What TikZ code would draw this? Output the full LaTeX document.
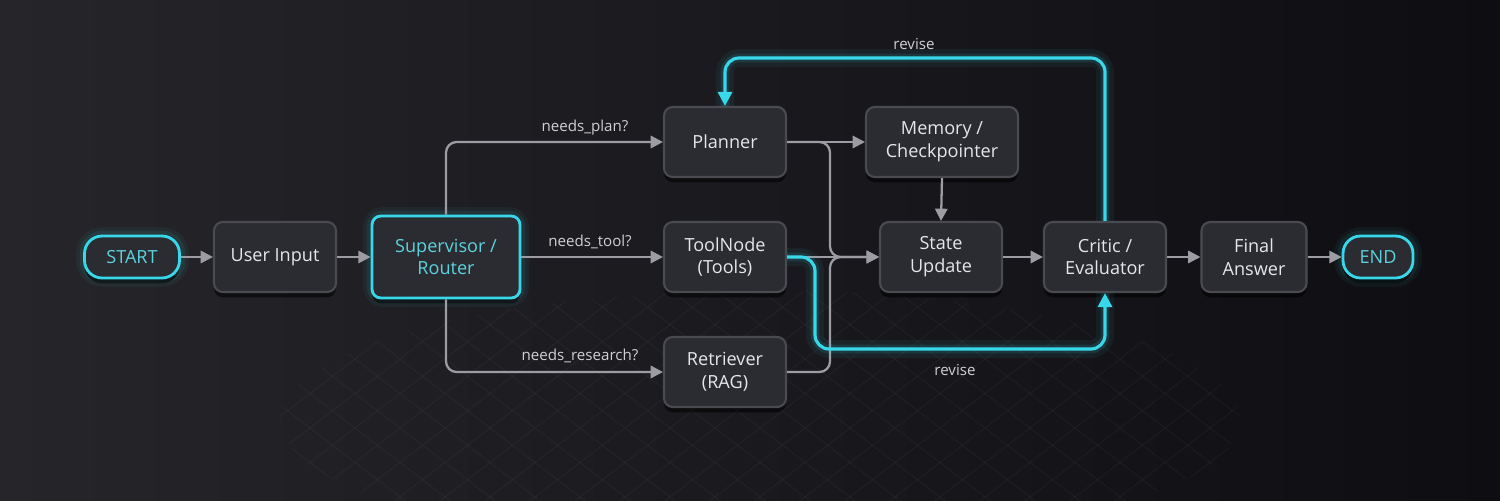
\documentclass[tikz,border=0pt]{standalone}
\usepackage{fontspec}
\setmainfont{Open Sans}
\usetikzlibrary{arrows.meta,shadows,calc}
\definecolor{bgA}{HTML}{26262A}
\definecolor{bgB}{HTML}{0E0E12}
\definecolor{nfill}{HTML}{2B2C31}
\definecolor{nborder}{HTML}{4A4B51}
\definecolor{cyanc}{HTML}{38D8EA}
\definecolor{cyantxt}{HTML}{5CD2DE}
\definecolor{linec}{HTML}{9C9CA2}
\definecolor{txt}{HTML}{E6E6EA}
\definecolor{lbl}{HTML}{CFCFD4}
\tikzset{
  box/.style={draw=nborder, line width=1.2pt, fill=nfill, rounded corners=5pt,
    minimum width=2.44cm, minimum height=1.4cm, align=center, text=txt,
    font=\fontsize{10.3}{13}\selectfont,
    drop shadow={shadow xshift=0pt, shadow yshift=-3pt, opacity=0.55, fill=black}},
  hot/.style={box, draw=cyanc, line width=1.6pt, text=cyantxt},
  pill/.style={hot, rounded corners=10pt, minimum height=0.84cm, minimum width=1.9cm},
  conn/.style={draw=linec, line width=1.3pt, rounded corners=6pt, -{Triangle[length=7pt,width=7pt]}},
  plain/.style={draw=linec, line width=1.3pt, rounded corners=6pt},
  glowA/.style={draw=cyanc, line width=10pt, opacity=0.06, rounded corners=8pt},
  glowB/.style={draw=cyanc, line width=5pt, opacity=0.12, rounded corners=8pt},
  cy/.style={draw=cyanc, line width=1.8pt, rounded corners=8pt},
  cyarr/.style={cy, -{Triangle[length=8pt,width=8pt]}},
  lab/.style={text=lbl, font=\fontsize{8.6}{10}\selectfont},
}
\begin{document}
\begin{tikzpicture}[x=0.02cm,y=-0.02cm]
\useasboundingbox (0,0) rectangle (1500,500);
\shade[left color=bgA, right color=bgB] (0,0) rectangle (1500,500);
% faint perspective grid
\begin{scope}
\clip (760,420) ellipse [x radius=480, y radius=130];
\foreach \i in {-16,...,16} {
  \draw[white, opacity=0.035, line width=0.6pt] (760+\i*45,290) -- (760+\i*45+300,520);
  \draw[white, opacity=0.035, line width=0.6pt] (760+\i*45,290) -- (760+\i*45-300,520);
}
\end{scope}
% glow for highlighted nodes
\foreach \w/\o in {10/0.05,6/0.08} {
  \draw[cyanc, line width=\w pt, opacity=\o, rounded corners=10pt] (85,236) rectangle (180,278);
  \draw[cyanc, line width=\w pt, opacity=\o, rounded corners=10pt] (1343,236) rectangle (1413,278);
  \draw[cyanc, line width=\w pt, opacity=\o, rounded corners=6pt] (372,216) rectangle (520,298);
}
% nodes
\node[pill] (start) at (132,257) {START};
\node[box] (user) at (275,257) {User Input};
\node[hot, minimum width=2.96cm, minimum height=1.64cm] (sup) at (446,257) {Supervisor /\\Router};
\node[box] (plan) at (725,142) {Planner};
\node[box] (tool) at (725,257) {ToolNode\\(Tools)};
\node[box] (ret) at (725,372) {Retriever\\(RAG)};
\node[box, minimum width=3.04cm] (mem) at (942,142) {Memory /\\Checkpointer};
\node[box] (state) at (941,257) {State\\Update};
\node[box] (critic) at (1105,257) {Critic /\\Evaluator};
\node[box, minimum width=2.1cm] (final) at (1254,257) {Final\\Answer};
\node[pill, minimum width=1.4cm] (end) at (1378,257) {END};
% coordinates
\coordinate (mx) at (830,257);
\coordinate (sx) at (815,257);
\coordinate (bot) at (1105,349);
\coordinate (topl) at (725,58);
% gray connectors
\draw[conn] (start) -- (user);
\draw[conn] (user) -- (sup);
\draw[conn] (sup.north) |- (plan.west);
\draw[conn] (sup.east) -- (tool.west);
\draw[conn] (sup.south) |- (ret.west);
\draw[conn] (plan.east) -- (mem.west);
\draw[conn] (plan.east) -| (mx) -- (state.west);
\draw[conn] (ret.east) -| (mx) -- (state.west);
\draw[conn] (tool.east) -- (state.west);
\draw[conn] (mem.south) -- (state.north);
\draw[conn] (state) -- (critic);
\draw[conn] (critic) -- (final);
\draw[conn] (final) -- (end);
% labels
\node[lab] (l1) at (585,128) {needs\_plan?};
\node[lab] (l2) at (590,242) {needs\_tool?};
\node[lab] (l3) at (580,356) {needs\_research?};
% cyan revise loops
\foreach \s in {glowA,glowB} {
  \draw[\s] (critic.north) |- (topl) -- (plan.north);
  \draw[\s] (tool.east) -- (sx) |- (bot) -- (critic.south);
}
\draw[cyarr] (critic.north) |- (topl) -- (plan.north);
\draw[cyarr] (tool.east) -- (sx) |- (bot) -- (critic.south);
\node[lab] (r1) at (914,44) {revise};
\node[lab] (r2) at (955,370) {revise};
\end{tikzpicture}
\end{document}
